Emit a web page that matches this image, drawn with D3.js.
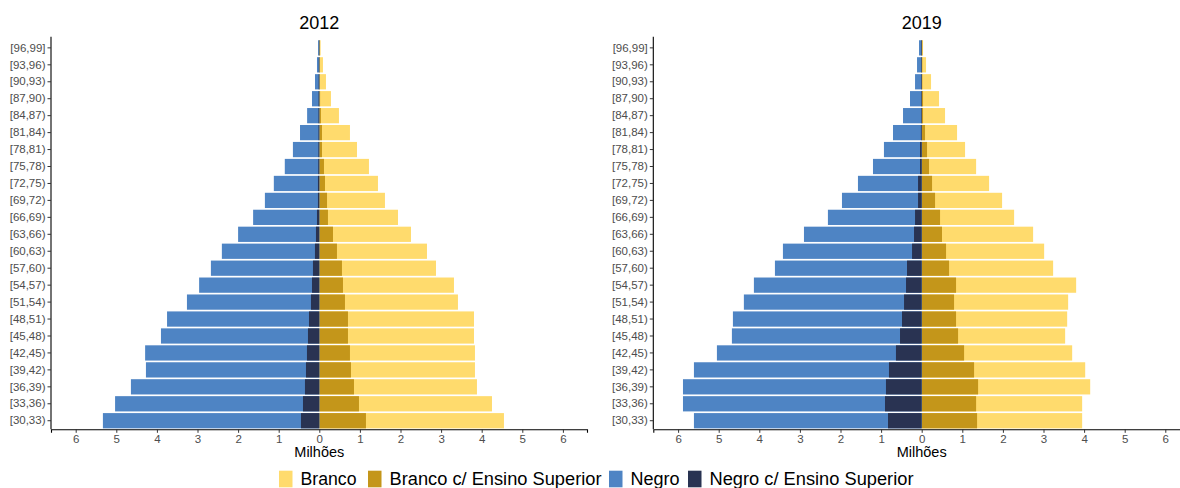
<!DOCTYPE html>
<html>
<head>
<meta charset="utf-8">
<script src="https://cdn.jsdelivr.net/npm/d3@7"></script>
<style>
  html, body { margin: 0; padding: 0; background: #fff; }
  svg { display: block; font-family: "Liberation Sans", Arial, Helvetica, sans-serif; }
</style>
</head>
<body>
<svg id="chart" width="1180" height="488"></svg>
<script>
// ---------- DATA ----------
const categories = ["[30,33)","[33,36)","[36,39)","[39,42)","[42,45)","[45,48)","[48,51)","[51,54)",
  "[54,57)","[57,60)","[60,63)","[63,66)","[66,69)","[69,72)","[72,75)","[75,78)","[78,81)",
  "[81,84)","[84,87)","[87,90)","[90,93)","[93,96)","[96,99]"];

const years = ["2012", "2019"];

const negro2012   = [5.33, 5.03, 4.64, 4.27, 4.29, 3.90, 3.75, 3.26, 2.96, 2.67, 2.40, 2.00, 1.63, 1.34, 1.12, 0.85, 0.65, 0.475, 0.30, 0.18, 0.106, 0.057, 0.03];
const negroES2012 = [0.451, 0.402, 0.353, 0.328, 0.304, 0.279, 0.254, 0.205, 0.18, 0.156, 0.107, 0.082, 0.057, 0.033, 0.033, 0.025, 0.022, 0.02, 0.02, 0.018, 0.015, 0.012, 0.01];
const branco2012  = [4.548, 4.253, 3.883, 3.834, 3.834, 3.81, 3.81, 3.415, 3.317, 2.874, 2.652, 2.258, 1.938, 1.617, 1.445, 1.223, 0.928, 0.755, 0.484, 0.287, 0.164, 0.09, 0.033];
const brancoES2012= [1.149, 0.977, 0.854, 0.78, 0.755, 0.706, 0.706, 0.632, 0.583, 0.558, 0.435, 0.337, 0.213, 0.19, 0.14, 0.115, 0.066, 0.066, 0.04, 0.02, 0.016, 0.016, 0.016];

const negro2019   = [5.61, 5.88, 5.88, 5.61, 5.044, 4.675, 4.65, 4.38, 4.133, 3.615, 3.418, 2.9, 2.31, 1.964, 1.57, 1.2, 0.93, 0.707, 0.46, 0.288, 0.164, 0.115, 0.066];
const negroES2019 = [0.83, 0.904, 0.88, 0.806, 0.634, 0.534, 0.485, 0.435, 0.386, 0.362, 0.238, 0.189, 0.164, 0.09, 0.09, 0.041, 0.041, 0.02, 0.016, 0.016, 0.016, 0.016, 0.016];
const branco2019  = [3.952, 3.952, 4.15, 4.027, 3.706, 3.533, 3.583, 3.607, 3.804, 3.237, 3.016, 2.744, 2.276, 1.98, 1.66, 1.34, 1.068, 0.871, 0.575, 0.427, 0.23, 0.107, 0.033];
const brancoES2019= [1.364, 1.34, 1.389, 1.29, 1.044, 0.896, 0.846, 0.797, 0.846, 0.674, 0.6, 0.5, 0.452, 0.329, 0.255, 0.18, 0.131, 0.082, 0.033, 0.033, 0.016, 0.016, 0.016];

const seriesNames = ["Branco", "Branco c/ Ensino Superior", "Negro", "Negro c/ Ensino Superior"];
const seriesColors = ["#FFDB6D", "#C4961A", "#4E84C4", "#293352"];
const xTicks = [-6, -5, -4, -3, -2, -1, 0, 1, 2, 3, 4, 5, 6];
const xLabel = "Milhões";

const panelData = [
  { year: years[0], series: [branco2012, brancoES2012, negro2012, negroES2012] },
  { year: years[1], series: [branco2019, brancoES2019, negro2019, negroES2019] }
];

// ---------- LAYOUT ----------
const svg = d3.select("#chart");
const panels = [
  { left: 51, right: 587, zero: 319.3 },
  { left: 653.3, right: 1190, zero: 921.7 }
];
const pxPerUnit = 40.6;
const panelTop = 36.7, panelBottom = 429.3;

const y = d3.scaleBand().domain(categories).range([429.2, 39.4]).paddingInner(0.1).paddingOuter(0.05);

panelData.forEach((pd, pi) => {
  const P = panels[pi];
  const x = d3.scaleLinear()
    .domain([(P.left - P.zero) / pxPerUnit, (P.right - P.zero) / pxPerUnit])
    .range([P.left, P.right]);
  const g = svg.append("g");

  pd.series.forEach((vals, si) => {
    const sign = si < 2 ? 1 : -1;
    g.append("g").selectAll("rect").data(vals).join("rect")
      .attr("x", (d) => sign > 0 ? x(0) : x(-d))
      .attr("width", (d) => Math.abs(x(d) - x(0)))
      .attr("y", (d, i) => y(categories[i]))
      .attr("height", y.bandwidth())
      .attr("fill", seriesColors[si]);
  });

  const xAxis = d3.axisBottom(x).tickValues(xTicks).tickFormat(d => Math.abs(d)).tickSizeOuter(0).tickSize(3.5).tickPadding(2.5);
  const gx = g.append("g").attr("transform", `translate(0,${panelBottom})`).call(xAxis);
  gx.select(".domain").attr("stroke", "#000").attr("stroke-width", 1.1);
  gx.selectAll(".tick line").attr("stroke", "#333").attr("stroke-width", 1);
  gx.selectAll(".tick text").attr("fill", "#4D4D4D").style("font-size", "11.5px")
    .style("font-family", "'Liberation Sans', Arial, sans-serif");

  const yAxis = d3.axisLeft(y).tickSizeOuter(0).tickSize(3.5).tickPadding(2);
  const gy = g.append("g").attr("transform", `translate(${P.left},0)`).call(yAxis);
  gy.select(".domain").attr("d", `M0,${panelTop}V${panelBottom}`).attr("stroke", "#000").attr("stroke-width", 1.1);
  gy.selectAll(".tick line").attr("stroke", "#333").attr("stroke-width", 1);
  gy.selectAll(".tick text").attr("fill", "#4D4D4D").style("font-size", "11.5px")
    .style("font-family", "'Liberation Sans', Arial, sans-serif");

  g.append("text").attr("x", x(0)).attr("y", 29).attr("text-anchor", "middle")
    .style("font-size", "18px").attr("fill", "#000").text(pd.year);

  g.append("text").attr("x", x(0)).attr("y", 457.3).attr("text-anchor", "middle")
    .style("font-size", "14.5px").attr("fill", "#000").text(xLabel);
});

// ---------- LEGEND ----------
const legend = svg.append("g");
const keyX = [279, 368, 609, 688];
const textW = [56, 212, 49, 204];
seriesNames.forEach((name, i) => {
  legend.append("rect").attr("x", keyX[i]).attr("y", 470.7).attr("width", 13.5).attr("height", 16.6)
    .attr("fill", seriesColors[i]);
  legend.append("text").attr("x", keyX[i] + 13.5 + 8).attr("y", 485)
    .style("font-size", "17.5px").attr("fill", "#000")
    .attr("textLength", textW[i]).attr("lengthAdjust", "spacingAndGlyphs")
    .text(name);
});
</script>
</body>
</html>
